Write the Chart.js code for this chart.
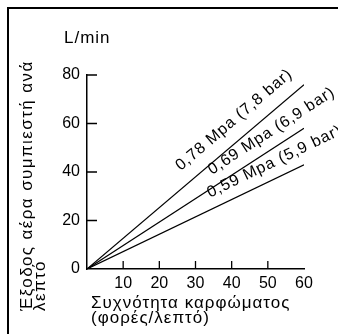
<!DOCTYPE html>
<html><head><meta charset="utf-8">
<script src="https://cdn.jsdelivr.net/npm/chart.js@4"></script>
<style>
html,body{margin:0;padding:0;background:#fff;}
#wrap{position:relative;width:338px;height:334px;overflow:hidden;background:#fff;}
#frame{position:absolute;left:7px;top:7px;width:340px;height:340px;border-left:2px solid #000;border-top:2px solid #000;}
#c{position:absolute;left:0;top:0;}
</style></head>
<body><div id="wrap"><div id="frame"></div><canvas id="c" width="338" height="334"></canvas></div>
<script>
const frequency = [0, 60];
const flow078 = [0, 76];
const flow069 = [0, 58];
const flow059 = [0, 43];
const seriesNames = ['0,78 Mpa (7,8 bar)', '0,69 Mpa (6,9 bar)', '0,59 Mpa (5,9 bar)'];
const xTickValues = [10, 20, 30, 40, 50, 60];
const yTickValues = [0, 20, 40, 60, 80];
const yTitleLines = ['Έξοδος αέρα συμπιεστή ανά', 'λεπτό'];
const xTitleLines = ['Συχνότητα καρφώματος', '(φορές/λεπτό)'];
const yUnit = 'L/min';

const FONT = "'Liberation Sans', Arial, sans-serif";
const series = [flow078, flow069, flow059];

const textPlugin = {
  id: 'textPlugin',
  afterDraw(chart, args, opts) {
    const {ctx, chartArea} = chart;
    const xs = chart.scales.x, ys = chart.scales.y;
    ctx.save();
    // inner tick marks
    ctx.strokeStyle = '#000';
    ctx.lineWidth = 1.3;
    ctx.beginPath();
    xs.ticks.forEach(t => {
      if (t.value > xs.min && t.value < xs.max) {
        const px = xs.getPixelForValue(t.value);
        ctx.moveTo(px, chartArea.bottom);
        ctx.lineTo(px, chartArea.bottom - 8);
      }
    });
    ys.ticks.forEach(t => {
      if (t.value > ys.min) {
        const py = ys.getPixelForValue(t.value);
        ctx.moveTo(chartArea.left, py);
        ctx.lineTo(chartArea.left + 10, py);
      }
    });
    ctx.stroke();

    ctx.fillStyle = '#000';
    const setLS = v => { if ('letterSpacing' in ctx) ctx.letterSpacing = v + 'px'; };

    // unit label
    ctx.font = '17px ' + FONT;
    setLS(1);
    ctx.textAlign = 'left';
    ctx.textBaseline = 'alphabetic';
    ctx.fillText(yUnit, 64, 43);

    // series labels along lines
    ctx.font = '16px ' + FONT;
    setLS(0.9);
    series.forEach((s, i) => {
      const meta = chart.getDatasetMeta(i);
      const p0 = meta.data[0], p1 = meta.data[1];
      const ang = Math.atan2(p1.y - p0.y, p1.x - p0.x);
      const ax = xs.getPixelForValue(opts.labelAt[i]);
      const f = (ax - p0.x) / (p1.x - p0.x);
      const ay = p0.y + f * (p1.y - p0.y);
      ctx.save();
      ctx.translate(ax, ay);
      ctx.rotate(ang);
      ctx.fillText(seriesNames[i], 0, -opts.gap[i]);
      ctx.restore();
    });

    // y title (rotated)
    ctx.font = '17px ' + FONT;
    setLS(1.4);
    ctx.save();
    ctx.translate(32, 311);
    ctx.rotate(-Math.PI / 2);
    yTitleLines.forEach((line, i) => ctx.fillText(line, 0, i * 13));
    ctx.restore();

    // x title
    setLS(1);
    xTitleLines.forEach((line, i) => ctx.fillText(line, 91, 308 + i * 15));
    ctx.restore();
  }
};

const mk = (arr, i) => ({
  label: seriesNames[i],
  data: frequency.map((x, k) => ({x: x, y: arr[k]})),
  borderColor: '#000',
  borderWidth: 1.2,
  pointRadius: 0,
  fill: false,
  tension: 0
});

new Chart(document.getElementById('c'), {
  type: 'line',
  data: { datasets: series.map(mk) },
  options: {
    responsive: false,
    animation: false,
    devicePixelRatio: 1,
    layout: { padding: { left: 0, top: 75, right: 34, bottom: 0 } },
    plugins: {
      legend: { display: false },
      tooltip: { enabled: false },
      textPlugin: { labelAt: [28.4, 36.2, 35.3], gap: [14, 11, 11] }
    },
    scales: {
      x: {
        type: 'linear', min: 0, max: 60,
        afterFit: s => { s.height = 65; },
        afterBuildTicks: s => { s.ticks = xTickValues.map(v => ({value: v})); },
        grid: { display: false, drawTicks: false },
        border: { display: true, color: '#000', width: 1.5 },
        ticks: { color: '#000', font: { family: FONT, size: 16 }, padding: 5, autoSkip: false, maxRotation: 0 }
      },
      y: {
        type: 'linear', min: 0, max: 80,
        afterFit: s => { s.width = 87; },
        afterBuildTicks: s => { s.ticks = yTickValues.map(v => ({value: v})); },
        grid: { display: false, drawTicks: false },
        border: { display: true, color: '#000', width: 1.5 },
        ticks: { color: '#000', font: { family: FONT, size: 16 }, padding: 7, autoSkip: false }
      }
    }
  },
  plugins: [textPlugin]
});
</script>
</body></html>
